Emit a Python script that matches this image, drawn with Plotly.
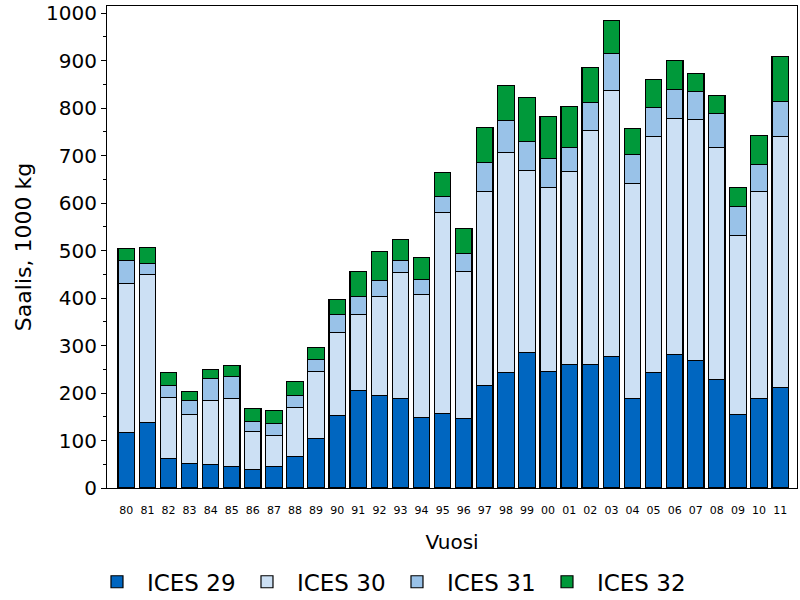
import plotly.graph_objects as go

years = ["80","81","82","83","84","85","86","87","88","89","90","91","92","93","94","95",
         "96","97","98","99","00","01","02","03","04","05","06","07","08","09","10","11"]
ices29 = [117,138,62,52,50,46,39,46,67,105,153,206,195,189,149,157,
          147,216,244,286,246,260,260,277,189,244,281,269,229,155,189,212]
ices30 = [314,312,129,103,135,143,80,65,103,141,175,160,209,265,259,423,
          309,409,463,383,387,407,493,560,452,496,497,507,488,377,436,528]
ices31 = [48,23,25,30,46,46,21,25,25,25,38,38,33,25,31,34,
          38,60,67,61,61,50,59,78,61,61,61,59,72,61,57,74]
ices32 = [26,34,28,19,19,23,28,28,30,25,31,52,61,45,47,51,
          53,74,74,92,88,87,74,69,55,59,61,38,38,40,60,95]

series = [("ICES 29", ices29, "#0066C0"),
          ("ICES 30", ices30, "#CCE0F4"),
          ("ICES 31", ices31, "#99C2E8"),
          ("ICES 32", ices32, "#00993A")]

xs = list(range(len(years)))
fig = go.Figure()
for name, vals, col in series:
    fig.add_trace(go.Bar(x=xs, y=vals, name=name, width=0.78,
                         marker=dict(color=col, line=dict(color="black", width=1.2))))

font = "DejaVu Sans"
fig.update_layout(
    barmode="stack",
    width=800, height=600,
    margin=dict(l=107, r=3, t=6, b=112, autoexpand=False),
    paper_bgcolor="white", plot_bgcolor="white",
    font=dict(family=font, color="black"),
    showlegend=True,
    legend=dict(orientation="h", x=-0.029, xanchor="left", y=-0.15, yanchor="top",
                font=dict(size=23, family=font), entrywidth=85, entrywidthmode="pixels",
                traceorder="normal", itemwidth=50),
    xaxis=dict(range=[-0.915, 31.8], tickmode="array", tickvals=xs, ticktext=years,
               tickfont=dict(size=11), ticks="", showgrid=False, zeroline=False,
               showline=True, linecolor="black", linewidth=1, mirror=True,
               automargin=False, ticklabelstandoff=12,
               title=dict(text="Vuosi", font=dict(size=20), standoff=18)),
    yaxis=dict(range=[0, 1015], tickmode="array", tickvals=list(range(0, 1001, 100)),
               tickfont=dict(size=20), ticks="outside", ticklen=5, tickcolor="black",
               minor=dict(tickvals=list(range(50, 1000, 100)), ticks="outside", ticklen=3,
                          tickcolor="black"),
               showgrid=False, zeroline=False, automargin=False,
               showline=True, linecolor="black", linewidth=1, mirror=True,
               title=dict(text="Saalis, 1000 kg", font=dict(size=22), standoff=8)),
)
fig.write_html("out.html", config={"displayModeBar": False},
               post_script="document.body.style.margin='0';document.body.style.padding='0';")
